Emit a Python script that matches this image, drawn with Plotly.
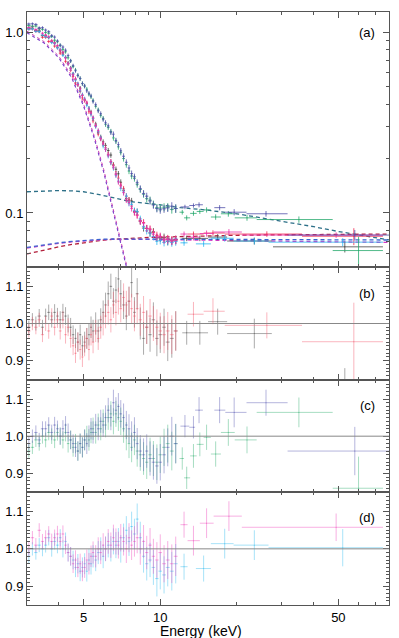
import numpy as np
import plotly.graph_objects as go
from plotly.subplots import make_subplots

# ---- dense low-energy channel grid (keV), shared by all six spectra
E_LO = [3.05, 3.15, 3.25, 3.35, 3.45, 3.55, 3.65, 3.75, 3.85, 3.95,
        4.05, 4.15, 4.25, 4.35, 4.45, 4.55, 4.65, 4.75, 4.85, 4.95,
        5.05, 5.15, 5.25, 5.35, 5.45, 5.58, 5.71, 5.84, 5.97, 6.10,
        6.25, 6.40, 6.55, 6.70, 6.85, 7.00, 7.18, 7.36, 7.54, 7.72,
        7.92, 8.12, 8.35, 8.60, 8.85, 9.12, 9.40, 9.70, 10.0, 10.35,
        10.7, 11.1, 11.5]

# total model (E F_E) for the two groups of spectra
TOTAL_LOW = [1.06, 1.04, 1.02, 0.995, 0.965, 0.935, 0.905, 0.875, 0.845, 0.81,
             0.78, 0.745, 0.71, 0.675, 0.64, 0.605, 0.57, 0.54, 0.505, 0.475,
             0.445, 0.42, 0.39, 0.365, 0.34, 0.31, 0.285, 0.26, 0.24, 0.225,
             0.205, 0.19, 0.174, 0.16, 0.147, 0.137, 0.127, 0.118, 0.111, 0.105,
             0.099, 0.094, 0.090, 0.086, 0.083, 0.080, 0.078, 0.076, 0.075, 0.074,
             0.0735, 0.073, 0.0725]
TOTAL_HIGH = [1.13, 1.11, 1.09, 1.065, 1.035, 1.005, 0.975, 0.945, 0.91, 0.875,
              0.845, 0.81, 0.77, 0.735, 0.70, 0.665, 0.63, 0.60, 0.565, 0.535,
              0.508, 0.483, 0.458, 0.435, 0.41, 0.385, 0.36, 0.34, 0.32, 0.30,
              0.283, 0.266, 0.25, 0.235, 0.221, 0.208, 0.196, 0.185, 0.174, 0.165,
              0.157, 0.150, 0.142, 0.135, 0.129, 0.124, 0.119, 0.115, 0.112, 0.111,
              0.110, 0.109, 0.108]

ERR_LO = [0.018, 0.018, 0.019, 0.019, 0.020, 0.020, 0.021, 0.021, 0.022, 0.022,
          0.023, 0.023, 0.024, 0.024, 0.025, 0.025, 0.026, 0.026, 0.027, 0.027,
          0.028, 0.028, 0.029, 0.029, 0.030, 0.030, 0.031, 0.031, 0.032, 0.033,
          0.033, 0.034, 0.035, 0.035, 0.036, 0.037, 0.038, 0.038, 0.039, 0.040,
          0.041, 0.042, 0.043, 0.044, 0.045, 0.046, 0.047, 0.048, 0.049, 0.050,
          0.051, 0.052, 0.053]

# data/model ratios on the dense grid
RATIO_GRAY = [0.99, 1.01, 1.00, 1.02, 0.99, 1.02, 1.03, 1.01, 1.03, 1.02,
              1.01, 1.03, 1.02, 1.00, 0.99, 0.97, 0.96, 0.95, 0.97, 0.94,
              0.95, 0.96, 0.97, 0.99, 0.98, 1.00, 0.98, 1.01, 1.03, 1.05,
              1.08, 1.10, 1.06, 1.09, 1.12, 1.08, 1.05, 1.02, 1.06, 1.11,
              1.03, 1.08, 1.00, 0.96, 0.99, 0.97, 1.01, 0.96, 0.97, 0.99,
              0.95, 0.96, 0.98]
RATIO_RED = [0.98, 1.00, 0.99, 1.01, 0.97, 1.00, 0.98, 1.02, 0.99, 1.01,
             0.98, 1.01, 0.97, 0.99, 0.96, 0.94, 0.92, 0.95, 0.93, 0.91,
             0.94, 0.96, 0.93, 0.97, 0.95, 0.98, 0.96, 0.99, 1.00, 1.02,
             1.03, 1.01, 1.05, 1.03, 1.06, 1.04, 1.07, 1.05, 1.06, 1.04,
             1.02, 1.04, 1.01, 1.03, 0.99, 1.02, 1.00, 0.99, 0.98, 0.97,
             0.98, 0.97, 0.98]
RATIO_BLUE = [0.98, 1.00, 1.01, 0.99, 1.02, 1.02, 1.03, 1.01, 1.03, 1.02,
              1.00, 1.02, 1.03, 1.01, 0.99, 0.98, 0.97, 0.96, 0.98, 0.97,
              0.99, 0.98, 1.00, 1.02, 1.01, 1.03, 1.02, 1.04, 1.03, 1.05,
              1.07, 1.05, 1.09, 1.07, 1.08, 1.06, 1.05, 1.03, 1.02, 1.00,
              1.01, 0.98, 0.96, 0.95, 0.96, 0.94, 0.93, 0.92, 0.93, 0.95,
              0.97, 1.00, 0.98]
RATIO_GREEN = [0.96, 0.97, 0.99, 0.98, 1.00, 0.99, 1.01, 1.00, 0.99, 1.01,
               1.00, 0.99, 1.01, 0.98, 0.99, 0.97, 0.98, 0.96, 0.98, 0.97,
               0.99, 1.00, 0.99, 1.01, 1.02, 1.01, 1.03, 1.02, 1.04, 1.03,
               1.05, 1.06, 1.04, 1.06, 1.05, 1.04, 1.02, 1.00, 0.98, 0.97,
               0.99, 0.96, 0.95, 0.94, 0.93, 0.95, 0.94, 0.93, 0.95, 0.97,
               0.98, 0.96, 0.98]
RATIO_MAGENTA = [1.00, 1.03, 1.01, 1.05, 1.02, 1.03, 1.04, 1.02, 1.03, 1.04,
                 1.02, 1.04, 1.01, 0.99, 0.98, 0.96, 0.97, 0.95, 0.96, 0.94,
                 0.95, 0.97, 0.96, 0.98, 0.99, 0.98, 1.00, 0.99, 1.01, 1.00,
                 1.02, 1.01, 1.03, 1.02, 1.01, 1.03, 1.02, 1.00, 1.03, 1.01,
                 1.02, 1.03, 1.00, 1.02, 0.99, 1.01, 0.98, 0.97, 0.99, 0.96,
                 0.97, 0.96, 0.98]
RATIO_CYAN = [0.98, 1.00, 0.99, 1.01, 1.00, 1.01, 1.03, 1.00, 1.02, 1.01,
              1.03, 1.00, 1.02, 0.99, 0.98, 0.97, 0.95, 0.96, 0.94, 0.95,
              0.96, 0.94, 0.97, 0.96, 0.98, 0.97, 0.99, 1.00, 0.98, 1.00,
              1.01, 1.00, 1.02, 1.01, 1.02, 1.00, 1.03, 1.05, 1.02, 1.06,
              1.04, 1.08, 1.03, 0.98, 0.96, 0.97, 0.95, 0.92, 0.94, 0.93,
              0.95, 0.94, 0.96]

# ---- wide high-energy bins for each spectrum
GRAY_E = [12.7, 14.3, 16.8, 23.4, 53.0]
GRAY_LO = [12.2, 13.5, 15.4, 18.3, 27.7]
GRAY_UP = [13.5, 15.4, 18.3, 27.4, 74.8]
GRAY_RATIO = [0.975, 0.975, 1.005, 0.973, 0.80]
GRAY_RERR = [0.032, 0.032, 0.035, 0.040, 0.080]
GRAY_FLUX = [0.0724, 0.0724, 0.0736, 0.0700, 0.0650]
GRAY_FERR = [0.0025, 0.0025, 0.0028, 0.0030, 0.0045]

RED_E = [13.5, 16.1, 26.2, 57.5]
RED_LO = [12.8, 14.8, 17.9, 36.0]
RED_UP = [14.8, 17.9, 36.0, 74.8]
RED_RATIO = [1.025, 1.033, 0.995, 0.951]
RED_RERR = [0.033, 0.035, 0.035, 0.105]
RED_FLUX = [0.0765, 0.0775, 0.0765, 0.0744]
RED_FERR = [0.0025, 0.0027, 0.0027, 0.0080]

BLUE_E = [12.5, 13.5, 14.2, 17.1, 19.5, 26.0, 58.0]
BLUE_LO = [12.0, 13.0, 13.7, 16.3, 18.0, 21.8, 31.6]
BLUE_UP = [13.0, 13.7, 14.7, 18.0, 21.8, 31.6, 79.0]
BLUE_RATIO = [1.027, 1.024, 1.07, 1.07, 1.064, 1.09, 0.96]
BLUE_RERR = [0.030, 0.030, 0.035, 0.035, 0.040, 0.035, 0.065]
BLUE_FLUX = [0.108, 0.110, 0.111, 0.107, 0.101, 0.099, 0.0755]
BLUE_FERR = [0.003, 0.003, 0.0035, 0.0035, 0.004, 0.0035, 0.005]

GREEN_E = [12.2, 12.7, 13.5, 14.3, 15.2, 16.5, 18.5, 21.9, 35.0, 60.0]
GREEN_LO = [11.9, 12.4, 13.1, 13.9, 14.8, 15.8, 17.3, 19.6, 23.9, 47.5]
GREEN_UP = [12.4, 13.1, 13.9, 14.8, 15.8, 17.3, 19.6, 23.9, 47.5, 74.8]
GREEN_RATIO = [0.94, 0.888, 0.947, 0.978, 0.997, 0.952, 1.01, 0.99, 1.064, 0.86]
GREEN_RERR = [0.030, 0.030, 0.032, 0.032, 0.034, 0.034, 0.036, 0.036, 0.040, 0.085]
GREEN_FLUX = [0.101, 0.094, 0.0995, 0.102, 0.104, 0.095, 0.099, 0.094, 0.092, 0.062]
GREEN_FERR = [0.003, 0.003, 0.003, 0.0032, 0.0034, 0.0033, 0.0036, 0.0034, 0.0037, 0.012]

MAGENTA_E = [12.4, 13.5, 15.2, 18.6, 49.0]
MAGENTA_LO = [12.0, 12.8, 14.3, 16.2, 20.9]
MAGENTA_UP = [12.8, 14.3, 16.2, 20.9, 74.8]
MAGENTA_RATIO = [1.065, 1.022, 1.069, 1.088, 1.058]
MAGENTA_RERR = [0.035, 0.040, 0.040, 0.040, 0.037]
MAGENTA_FLUX = [0.0765, 0.0735, 0.077, 0.0785, 0.0755]
MAGENTA_FERR = [0.0025, 0.003, 0.003, 0.003, 0.0027]

CYAN_E = [12.4, 14.8, 17.9, 23.4, 52.0]
CYAN_LO = [12.0, 13.8, 15.8, 19.4, 26.6]
CYAN_UP = [12.8, 15.8, 19.4, 26.6, 74.8]
CYAN_RATIO = [0.952, 0.947, 1.014, 1.01, 1.003]
CYAN_RERR = [0.035, 0.035, 0.040, 0.040, 0.050]
CYAN_FLUX = [0.0684, 0.0675, 0.0725, 0.070, 0.069]
CYAN_FERR = [0.0025, 0.0025, 0.003, 0.003, 0.0035]

# ---- model components (panel a)
E_MOD = [3.0, 3.5, 4.0, 4.5, 5.0, 5.5, 6.0, 6.5, 7.0, 7.5, 8.0, 9.0, 10.0,
         12.0, 15.0, 20.0, 25.0, 30.0, 40.0, 50.0, 60.0, 70.0, 79.0]
PL_TEAL = [0.131, 0.1325, 0.133, 0.1325, 0.131, 0.128, 0.125, 0.122, 0.119, 0.116,
           0.115, 0.113, 0.111, 0.107, 0.104, 0.099, 0.094, 0.090, 0.084, 0.079,
           0.0757, 0.073, 0.071]
PL_RED = [0.0594, 0.0625, 0.065, 0.067, 0.0685, 0.0698, 0.0708, 0.0715, 0.072, 0.0724,
          0.0727, 0.0732, 0.0736, 0.0742, 0.0748, 0.0753, 0.0756, 0.0758, 0.0761, 0.0763,
          0.0764, 0.0765, 0.0765]
PL_MAGENTA = [0.0640, 0.0663, 0.0680, 0.0692, 0.0701, 0.0708, 0.0712, 0.0715, 0.0716, 0.0716,
              0.0716, 0.0715, 0.0713, 0.0710, 0.0706, 0.0702, 0.0699, 0.0697, 0.0694, 0.0692,
              0.0690, 0.0689, 0.0688]
PL_BLUE = [0.0645, 0.0667, 0.0684, 0.0697, 0.0706, 0.0712, 0.0716, 0.0718, 0.0719, 0.0719,
           0.0719, 0.0718, 0.0717, 0.0716, 0.0715, 0.0714, 0.0713, 0.0712, 0.0711, 0.0710,
           0.0710, 0.0709, 0.0709]
E_BB = [3.0, 3.5, 4.0, 4.5, 5.0, 5.5, 6.0, 6.5, 7.0, 7.5, 8.0]
BB_PURPLE = [0.99, 0.87, 0.72, 0.555, 0.39, 0.26, 0.168, 0.107, 0.070, 0.047, 0.031]
BB_MAGENTA = [1.01, 0.885, 0.735, 0.57, 0.40, 0.268, 0.174, 0.111, 0.073, 0.049, 0.032]

fig = make_subplots(rows=4, cols=1, shared_xaxes=True, vertical_spacing=0,
                    row_heights=[0.43, 0.19, 0.19, 0.19])

e_lo = np.array(E_LO)
xw_lo = np.gradient(e_lo) / 2


def add_spectrum(ratio_lo, total, e_hi, lo_hi, up_hi, r_hi, rerr_hi, f_hi, ferr_hi,
                 col_a, col_r, row):
    e_hi = np.array(e_hi)
    x = np.concatenate([e_lo, e_hi])
    xp = np.concatenate([xw_lo, np.array(up_hi) - e_hi])
    xm = np.concatenate([xw_lo, e_hi - np.array(lo_hi)])
    ratio = np.concatenate([ratio_lo, r_hi])
    rerr = np.concatenate([ERR_LO, rerr_hi])
    flux_lo = np.array(total) * np.array(ratio_lo)
    flux = np.concatenate([flux_lo, f_hi])
    ferr = np.concatenate([flux_lo * np.array(ERR_LO), ferr_hi])
    # unfolded spectrum in panel (a)
    fig.add_trace(go.Scatter(
        x=x, y=flux, mode='markers', showlegend=False, hoverinfo='skip',
        marker=dict(size=1, color=col_a),
        error_y=dict(type='data', array=ferr, color=col_a, thickness=1, width=0),
        error_x=dict(type='data', symmetric=False, array=xp, arrayminus=xm,
                     color=col_a, thickness=1, width=0),
    ), row=1, col=1)
    # ratio panel
    fig.add_trace(go.Scatter(
        x=x, y=ratio, mode='markers', showlegend=False, hoverinfo='skip',
        marker=dict(size=1, color=col_r),
        error_y=dict(type='data', array=rerr, color=col_r, thickness=1, width=0),
        error_x=dict(type='data', symmetric=False, array=xp, arrayminus=xm,
                     color=col_r, thickness=1, width=0),
    ), row=row, col=1)


# model lines in panel (a)
for yv, c, d, w, xs in [(PL_TEAL, '#2d7088', '4px,3px', 1.3, E_MOD),
                        (PL_RED, '#b3203c', '4px,3px', 1.3, E_MOD),
                        (PL_MAGENTA, '#d03cc4', '4px,3px', 1.3, E_MOD),
                        (PL_BLUE, '#3a64d0', '4px,3px', 1.3, E_MOD),
                        (BB_MAGENTA, '#d040b0', 'dot', 1.0, E_BB),
                        (BB_PURPLE, '#7a3cc8', 'dot', 1.1, E_BB)]:
    fig.add_trace(go.Scatter(x=xs, y=yv, mode='lines', showlegend=False, hoverinfo='skip',
                             line=dict(color=c, width=w, dash=d)), row=1, col=1)

add_spectrum(RATIO_GRAY, TOTAL_LOW, GRAY_E, GRAY_LO, GRAY_UP, GRAY_RATIO, GRAY_RERR,
             GRAY_FLUX, GRAY_FERR, 'rgba(70,70,70,0.8)', 'rgba(90,90,90,0.5)', 2)
add_spectrum(RATIO_RED, TOTAL_LOW, RED_E, RED_LO, RED_UP, RED_RATIO, RED_RERR,
             RED_FLUX, RED_FERR, 'rgba(240,40,80,0.8)', 'rgba(245,90,110,0.45)', 2)
add_spectrum(RATIO_CYAN, TOTAL_LOW, CYAN_E, CYAN_LO, CYAN_UP, CYAN_RATIO, CYAN_RERR,
             CYAN_FLUX, CYAN_FERR, 'rgba(40,180,240,0.8)', 'rgba(60,190,240,0.45)', 4)
add_spectrum(RATIO_MAGENTA, TOTAL_LOW, MAGENTA_E, MAGENTA_LO, MAGENTA_UP, MAGENTA_RATIO,
             MAGENTA_RERR, MAGENTA_FLUX, MAGENTA_FERR, 'rgba(235,50,170,0.8)',
             'rgba(240,80,190,0.45)', 4)
add_spectrum(RATIO_GREEN, TOTAL_HIGH, GREEN_E, GREEN_LO, GREEN_UP, GREEN_RATIO, GREEN_RERR,
             GREEN_FLUX, GREEN_FERR, 'rgba(40,170,110,0.8)', 'rgba(60,180,120,0.45)', 3)
add_spectrum(RATIO_BLUE, TOTAL_HIGH, BLUE_E, BLUE_LO, BLUE_UP, BLUE_RATIO, BLUE_RERR,
             BLUE_FLUX, BLUE_FERR, 'rgba(80,80,170,0.8)', 'rgba(90,90,180,0.45)', 3)

tick_font = dict(family='Liberation Sans, Arial, sans-serif', size=13, color='black')
axis_col = '#555555'

for r in range(1, 5):
    fig.update_xaxes(type='log', range=[np.log10(3), np.log10(79)],
                     tickvals=[5, 10, 50], ticktext=['5', '10', '50'],
                     ticks='inside', ticklen=6, tickcolor=axis_col, automargin=False,
                     showline=True, linecolor=axis_col, linewidth=1, mirror='allticks',
                     showgrid=False, zeroline=False, tickfont=tick_font,
                     minor=dict(tickvals=[3, 4, 6, 7, 8, 9, 20, 30, 40, 60, 70],
                                ticks='inside', ticklen=3, tickcolor=axis_col, showgrid=False),
                     row=r, col=1)

fig.update_yaxes(type='log', range=[np.log10(0.0503), np.log10(1.29)],
                 tickvals=[0.1, 1.0], ticktext=['0.1', '1.0'],
                 ticks='inside', ticklen=6, tickcolor=axis_col, automargin=False,
                 showline=True, linecolor=axis_col, linewidth=1, mirror='allticks',
                 showgrid=False, zeroline=False, tickfont=tick_font,
                 minor=dict(tickvals=[0.06, 0.07, 0.08, 0.09, 0.2, 0.3, 0.4, 0.5,
                                      0.6, 0.7, 0.8, 0.9],
                            ticks='inside', ticklen=3, tickcolor=axis_col, showgrid=False),
                 row=1, col=1)

for r in range(2, 5):
    fig.update_yaxes(range=[0.849, 1.152], tickvals=[0.9, 1.0, 1.1],
                     ticktext=['0.9', '1.0', '1.1'],
                     ticks='inside', ticklen=6, tickcolor=axis_col, automargin=False,
                     showline=True, linecolor=axis_col, linewidth=1, mirror='allticks',
                     showgrid=False, zeroline=False, tickfont=tick_font,
                     minor=dict(dtick=0.01, tick0=0.85, ticks='inside', ticklen=3,
                                tickcolor=axis_col, showgrid=False),
                     row=r, col=1)
    fig.add_hline(y=1.0, line=dict(color='#888888', width=1), row=r, col=1)

label_font = dict(family='Liberation Sans, Arial, sans-serif', size=13, color='black')
for txt, yy in [('(a)', 0.965), ('(b)', 0.526), ('(c)', 0.337), ('(d)', 0.147)]:
    fig.add_annotation(text=txt, xref='paper', yref='paper', x=0.94, y=yy,
                       showarrow=False, font=label_font, xanchor='center', yanchor='middle')

fig.add_annotation(text='Energy (keV)', xref='paper', yref='paper', x=0.48, y=-0.044,
                   showarrow=False, font=dict(family='Liberation Sans, Arial, sans-serif',
                                              size=14, color='black'),
                   xanchor='center', yanchor='middle')

fig.update_layout(
    template='none',
    width=399, height=638,
    margin=dict(l=27, r=10, t=12, b=33, autoexpand=False),
    plot_bgcolor='white', paper_bgcolor='white',
    showlegend=False,
)

fig.write_html("out.html", config={'displayModeBar': False},
               post_script="document.body.style.margin='0';"
                           "document.body.style.overflow='hidden';")
